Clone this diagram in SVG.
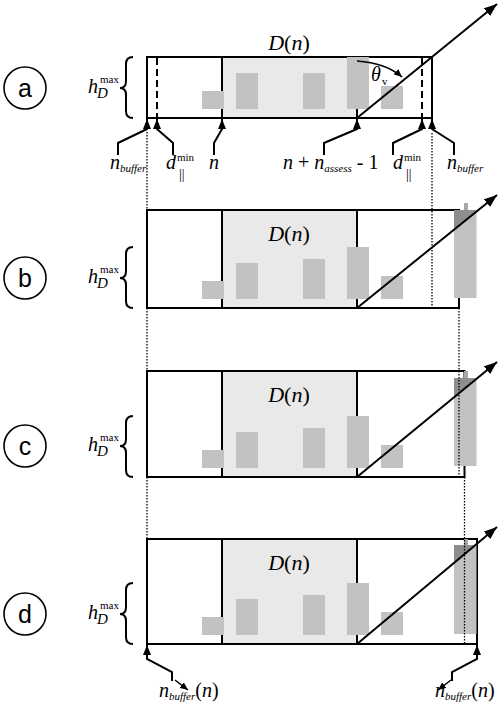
<svg xmlns="http://www.w3.org/2000/svg" width="500" height="706" viewBox="0 0 500 706">
<style>
.box{fill:none;stroke:#000;stroke-width:2}
.shade{fill:#e9e9e9}
.bar{fill:#c2c2c2}
.dark{fill:#8e8e8e}
.stem{fill:#a6a6a6}
.ln{stroke:#000;stroke-width:2;fill:none}
.dash{stroke:#000;stroke-width:2;stroke-dasharray:7 4;fill:none}
.dot{stroke:#000;stroke-width:1.3;stroke-dasharray:1.5 1.5;fill:none}
.lead{stroke:#000;stroke-width:2;fill:none;marker-end:url(#la)}
.ray{stroke:#000;stroke-width:2;fill:none;marker-end:url(#ah)}
.circ{fill:#fff;stroke:#000;stroke-width:1.6}
.lt{font-family:"Liberation Sans",Arial,sans-serif;font-size:25px;text-anchor:middle}
.m{font-family:"Liberation Serif","Times New Roman",serif;font-size:20px;font-style:italic;fill:#000}
.up{font-family:"Liberation Serif","Times New Roman",serif;font-size:20px;font-style:normal;fill:#000}
.sub{font-size:11px;font-style:italic}
.sup{font-size:11px;font-style:normal}
.par{font-size:14px;font-style:normal}
.dn{font-family:"Liberation Serif","Times New Roman",serif;font-size:22px;text-anchor:middle}
.brace{stroke:#000;stroke-width:2;fill:none}
</style>
<defs>
<marker id="ah" markerUnits="userSpaceOnUse" markerWidth="14" markerHeight="10" refX="13" refY="5" orient="auto"><path d="M0,0 L13,5 L0,10 z" fill="#000"/></marker>
<marker id="la" markerUnits="userSpaceOnUse" markerWidth="11" markerHeight="8" refX="10" refY="4" orient="auto"><path d="M0,0 L10,4 L0,8 z" fill="#000"/></marker>
<marker id="sa" markerUnits="userSpaceOnUse" markerWidth="9" markerHeight="7" refX="8" refY="3.5" orient="auto"><path d="M0,0 L8,3.5 L0,7 z" fill="#000"/></marker>
</defs>

<!-- Panel a -->
<g id="panel-a">
<circle class="circ" cx="25" cy="88" r="21"/>
<text class="lt" x="25" y="97">a</text>
<text class="m" x="88" y="93" font-size="23">h<tspan class="sup" x="100" y="83">max</tspan><tspan x="97" y="98" font-size="15">D</tspan></text>
<path class="brace" d="M133,57 Q126,57 126,64 L126,81 Q126,88 120,88 Q126,88 126,95 L126,111 Q126,118 133,118"/>
<rect class="shade" x="222" y="57" width="135" height="61"/>
<line class="ln" x1="222" y1="57" x2="222" y2="118"/>
<line class="ln" x1="357" y1="57" x2="357" y2="118"/>
<line class="dash" x1="157" y1="58" x2="157" y2="118"/>
<line class="dash" x1="422" y1="58" x2="422" y2="118"/>
<rect class="box" x="147" y="57" width="285" height="61"/>
<rect class="bar" x="202" y="91" width="22" height="18"/>
<rect class="bar" x="236" y="73" width="22" height="36"/>
<rect class="bar" x="303" y="73" width="22" height="36"/>
<rect class="bar" x="347" y="57" width="22" height="52"/>
<rect class="bar" x="381" y="86" width="22" height="23"/>
<text class="dn" x="289" y="50"><tspan font-style="italic">D</tspan>(<tspan font-style="italic">n</tspan>)</text>
<path d="M357,61 Q386,63 402,77" stroke="#000" stroke-width="1.5" fill="none" marker-end="url(#sa)"/>
<text class="m" x="371" y="81" font-size="17">θ<tspan class="sup" x="382" y="85" font-size="12">v</tspan></text>
<line class="ray" x1="357" y1="118" x2="497" y2="4"/>
</g>

<!-- Panel b -->
<g id="panel-b">
<circle class="circ" cx="25" cy="278" r="21"/>
<text class="lt" x="25" y="287">b</text>
<text class="m" x="88" y="283" font-size="23">h<tspan class="sup" x="100" y="273">max</tspan><tspan x="97" y="288" font-size="15">D</tspan></text>
<path class="brace" d="M133,247 Q126,247 126,254 L126,271 Q126,278 120,278 Q126,278 126,285 L126,301 Q126,308 133,308"/>
<rect class="shade" x="222" y="210" width="135" height="98"/>
<line class="ln" x1="222" y1="210" x2="222" y2="308"/>
<line class="ln" x1="357" y1="210" x2="357" y2="308"/>
<rect class="box" x="147" y="210" width="312" height="98"/>
<rect class="bar" x="202" y="281" width="22" height="18"/>
<rect class="bar" x="236" y="263" width="22" height="36"/>
<rect class="bar" x="303" y="259" width="22" height="40"/>
<rect class="bar" x="347" y="247" width="22" height="52"/>
<rect class="bar" x="381" y="276" width="22" height="23"/>
<rect class="stem" x="464" y="203" width="4" height="7"/>
<rect class="bar" x="454" y="210" width="22.5" height="88"/>
<polygon class="dark" points="454,210 476.5,210 476.5,212.3 454,230.3"/>
<text class="dn" x="289" y="241"><tspan font-style="italic">D</tspan>(<tspan font-style="italic">n</tspan>)</text>
<line class="ray" x1="357" y1="308" x2="497" y2="195"/>
</g>

<!-- Panel c -->
<g id="panel-c">
<circle class="circ" cx="25" cy="446" r="21"/>
<text class="lt" x="25" y="455">c</text>
<text class="m" x="88" y="451" font-size="23">h<tspan class="sup" x="100" y="441">max</tspan><tspan x="97" y="456" font-size="15">D</tspan></text>
<path class="brace" d="M133,416 Q126,416 126,423 L126,439 Q126,446 120,446 Q126,446 126,453 L126,470 Q126,477 133,477"/>
<rect class="shade" x="222" y="371" width="135" height="106"/>
<line class="ln" x1="222" y1="371" x2="222" y2="477"/>
<line class="ln" x1="357" y1="371" x2="357" y2="477"/>
<rect class="box" x="147" y="371" width="317.5" height="106"/>
<rect class="bar" x="202" y="450" width="22" height="18"/>
<rect class="bar" x="236" y="432" width="22" height="36"/>
<rect class="bar" x="303" y="428" width="22" height="40"/>
<rect class="bar" x="347" y="416" width="22" height="52"/>
<rect class="bar" x="381" y="445" width="22" height="23"/>
<rect class="stem" x="464" y="371" width="4" height="7"/>
<rect class="bar" x="454" y="378" width="22.5" height="88"/>
<polygon class="dark" points="454,378 476.5,378 476.5,379.5 454,397.9"/>
<text class="dn" x="289" y="402"><tspan font-style="italic">D</tspan>(<tspan font-style="italic">n</tspan>)</text>
<line class="ray" x1="357" y1="477" x2="497" y2="362"/>
</g>

<!-- Panel d -->
<g id="panel-d">
<circle class="circ" cx="25" cy="614" r="21"/>
<text class="lt" x="25" y="623">d</text>
<text class="m" x="88" y="619" font-size="23">h<tspan class="sup" x="100" y="609">max</tspan><tspan x="97" y="624" font-size="15">D</tspan></text>
<path class="brace" d="M133,583 Q126,583 126,590 L126,607 Q126,614 120,614 Q126,614 126,621 L126,637 Q126,644 133,644"/>
<rect class="shade" x="222" y="539" width="135" height="105"/>
<line class="ln" x1="222" y1="539" x2="222" y2="644"/>
<line class="ln" x1="357" y1="539" x2="357" y2="644"/>
<rect class="box" x="147" y="539" width="330" height="105"/>
<rect class="bar" x="202" y="617" width="22" height="18"/>
<rect class="bar" x="236" y="599" width="22" height="36"/>
<rect class="bar" x="303" y="595" width="22" height="40"/>
<rect class="bar" x="347" y="583" width="22" height="52"/>
<rect class="bar" x="381" y="612" width="22" height="23"/>
<rect class="stem" x="464" y="539" width="4" height="6"/>
<rect class="bar" x="454" y="545" width="22.5" height="89"/>
<polygon class="dark" points="454,545 476.5,545 454,563.5"/>
<text class="dn" x="289" y="570"><tspan font-style="italic">D</tspan>(<tspan font-style="italic">n</tspan>)</text>
<line class="ray" x1="357" y1="644" x2="497" y2="527"/>
</g>

<!-- Connectors: dotted guides and leader arrows -->
<g id="connectors">
<line class="dot" x1="147" y1="132" x2="147" y2="210"/>
<line class="dot" x1="147" y1="308" x2="147" y2="371"/>
<line class="dot" x1="147" y1="477" x2="147" y2="539"/>
<line class="dot" x1="432" y1="133" x2="432" y2="308"/>
<line class="dot" x1="459" y1="308" x2="459" y2="477"/>
<line class="dot" x1="464.5" y1="477" x2="464.5" y2="644"/>

<path class="lead" d="M118,155 L118,143 L147,129 L147,119"/>
<path class="lead" d="M173,155 L173,143 L157,129 L157,119"/>
<path class="lead" d="M214,155 L214,143 L222,129 L222,119"/>
<path class="lead" d="M324,155 L324,143 L357,129 L357,119"/>
<path class="lead" d="M393,155 L393,143 L422,129 L422,119"/>
<path class="lead" d="M454,155 L454,143 L432,129 L432,119"/>

<path class="lead" d="M172,681 L172,672 L147,659 L147,645"/>
<path class="lead" d="M452,681 L452,672 L477,659 L477,645"/>
<line x1="175" y1="680" x2="188" y2="690" stroke="#000" stroke-width="1.5" marker-end="url(#sa)"/>
<line x1="451" y1="680" x2="438" y2="690" stroke="#000" stroke-width="1.5" marker-end="url(#sa)"/>
</g>

<!-- Labels -->
<g id="labels">
<text class="m" x="110" y="169">n<tspan class="sub" dy="3">buffer</tspan></text>
<text class="m" x="166" y="169" opacity="0.99">d<tspan class="sup" x="177" y="161">min</tspan><tspan class="par" x="179" y="179">||</tspan></text>
<text class="m" x="209" y="169">n</text>
<text class="up" x="283" y="169"><tspan font-style="italic">n</tspan> + <tspan font-style="italic">n</tspan><tspan class="sub" dy="3">assess</tspan><tspan dy="-3"> - 1</tspan></text>
<text class="m" x="393" y="169" opacity="0.99">d<tspan class="sup" x="404" y="161">min</tspan><tspan class="par" x="406" y="179">||</tspan></text>
<text class="m" x="447" y="169">n<tspan class="sub" dy="3">buffer</tspan></text>

<text class="up" x="159" y="697"><tspan font-style="italic">n</tspan><tspan class="sub" dy="3">buffer</tspan><tspan dy="-3">(</tspan><tspan font-style="italic">n</tspan>)</text>
<text class="up" x="435" y="697"><tspan font-style="italic">n</tspan><tspan class="sub" dy="3">buffer</tspan><tspan dy="-3">(</tspan><tspan font-style="italic">n</tspan>)</text>
</g>
</svg>
